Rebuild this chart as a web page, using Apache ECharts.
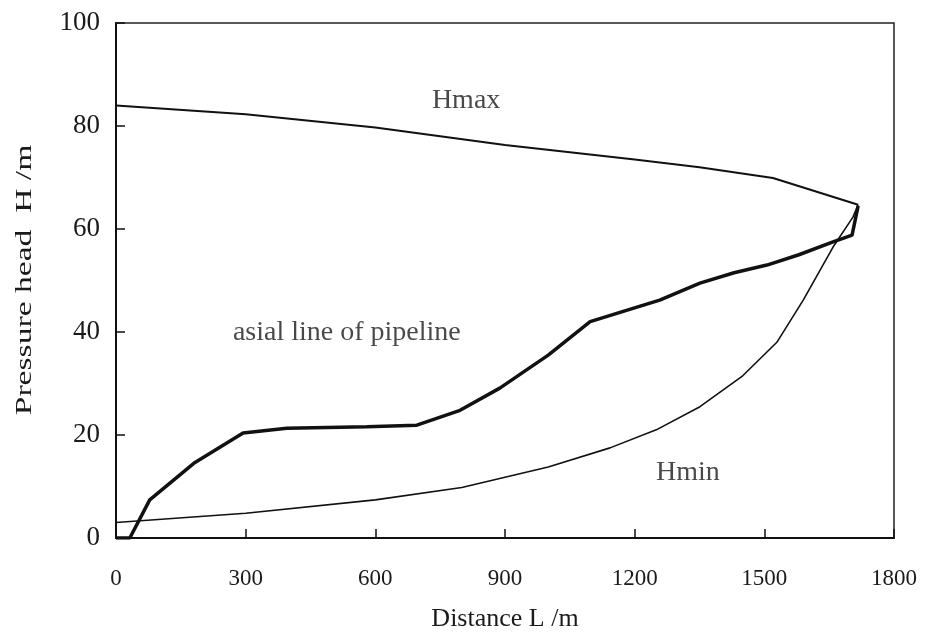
<!DOCTYPE html>
<html>
<head>
<meta charset="utf-8">
<script src="https://cdn.jsdelivr.net/npm/echarts@6/dist/echarts.min.js"></script>
<style>html,body{margin:0;padding:0;background:#fff}#c{width:926px;height:638px}</style>
</head>
<body>
<div id="c"></div>
<script>
var xTicks = [0, 300, 600, 900, 1200, 1500, 1800];
var yTicks = [0, 20, 40, 60, 80, 100];
var xAxisTitle = 'Distance L /m';
var yAxisTitle = 'Pressure head  H /m';

var hmaxX = [0, 300, 600, 900, 1200, 1350, 1520, 1717];
var hmaxY = [84, 82.3, 79.7, 76.3, 73.5, 72, 69.9, 64.7];

var pipeX = [0, 32, 78, 180, 294, 395, 580, 696, 796, 888, 1000, 1097, 1196, 1258, 1351, 1430, 1506, 1580, 1659, 1703, 1717];
var pipeY = [0, 0, 7.4, 14.5, 20.4, 21.3, 21.6, 21.9, 24.8, 29.1, 35.5, 42, 44.6, 46.2, 49.5, 51.5, 53, 55, 57.5, 58.8, 64.5];

var hminX = [0, 300, 600, 800, 900, 1000, 1143, 1250, 1351, 1450, 1529, 1590, 1659, 1705, 1717];
var hminY = [3, 4.8, 7.4, 9.8, 11.8, 13.8, 17.5, 21, 25.5, 31.5, 38, 46.2, 56.5, 62.3, 64.7];

var labelTexts = ['Hmax', 'asial line of pipeline', 'Hmin'];
var labelX = [810, 534, 1323];
var labelY = [85, 39.8, 12.6];

function pairs(xs, ys) { return xs.map(function (x, i) { return [x, ys[i]]; }); }

var font = '"Liberation Serif", "DejaVu Serif", serif';
var chart = echarts.init(document.getElementById('c'));
chart.setOption({
  backgroundColor: '#fff',
  animation: false,
  grid: { left: 116, right: 32, top: 23, bottom: 100, show: true, borderColor: '#222', borderWidth: 1.5, backgroundColor: 'transparent' },
  graphic: [{
    type: 'text', x: 25, y: 280, rotation: Math.PI / 2, scaleX: 1.4,
    style: { text: yAxisTitle, font: '24px "Liberation Serif", serif', fill: '#1a1a1a',
             textAlign: 'center', textVerticalAlign: 'middle', align: 'center', verticalAlign: 'middle' }
  }],
  xAxis: {
    type: 'value', min: xTicks[0], max: xTicks[xTicks.length - 1], interval: 300,
    name: xAxisTitle, nameLocation: 'middle', nameGap: 68,
    nameTextStyle: { fontFamily: font, fontSize: 26, color: '#1a1a1a' },
    axisLine: { lineStyle: { color: '#111', width: 2 } },
    axisTick: { inside: true, length: 9, lineStyle: { color: '#111', width: 1.5 } },
    axisLabel: { margin: 29, fontFamily: font, fontSize: 23, color: '#1a1a1a', formatter: function (v) { return String(v); } },
    splitLine: { show: false }
  },
  yAxis: {
    type: 'value', min: yTicks[0], max: yTicks[yTicks.length - 1], interval: 20,
    axisLine: { lineStyle: { color: '#111', width: 2 } },
    axisTick: { inside: true, length: 9, lineStyle: { color: '#111', width: 1.5 } },
    axisLabel: { margin: 16, fontFamily: font, fontSize: 27, color: '#1a1a1a', formatter: function (v) { return String(v); } },
    splitLine: { show: false }
  },
  series: [
    { name: 'Hmax', type: 'line', data: pairs(hmaxX, hmaxY), symbol: 'none', lineStyle: { color: '#111', width: 2 } },
    { name: 'pipeline', type: 'line', data: pairs(pipeX, pipeY), symbol: 'none', lineStyle: { color: '#111', width: 3.5 } },
    { name: 'Hmin', type: 'line', data: pairs(hminX, hminY), symbol: 'none', lineStyle: { color: '#111', width: 1.6 } },
    {
      name: 'labels', type: 'scatter', symbolSize: 0, silent: true,
      data: labelTexts.map(function (t, i) { return { value: [labelX[i], labelY[i]], name: t }; }),
      label: { show: true, position: 'inside', formatter: '{b}', fontFamily: font, fontSize: 28, color: '#1a1a1a' }
    }
  ]
});
</script>
</body>
</html>
